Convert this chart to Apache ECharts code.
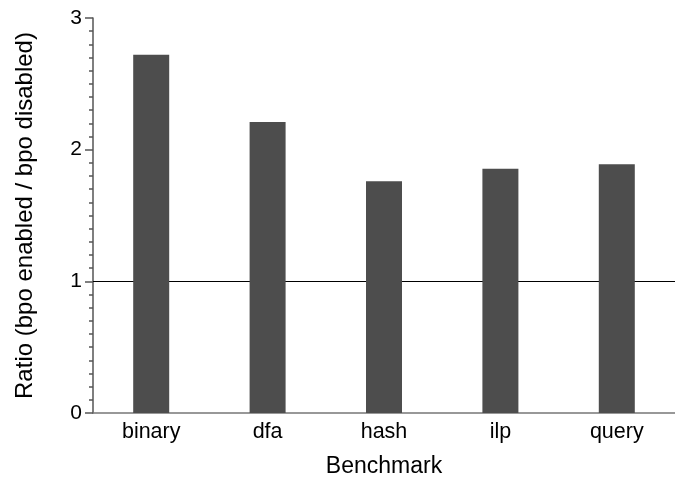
<!DOCTYPE html>
<html>
<head>
<meta charset="utf-8">
<script src="https://cdn.jsdelivr.net/npm/echarts@6/dist/echarts.min.js"></script>
<style>html,body{margin:0;padding:0;background:#fff;}#c{width:675px;height:484px;}</style>
</head>
<body>
<div id="c"></div>
<script>
const categories = ['binary', 'dfa', 'hash', 'ilp', 'query'];
const ratios = [2.72, 2.21, 1.76, 1.855, 1.89];
const yTicks = [0, 1, 2, 3];
const referenceValue = 1;

const chart = echarts.init(document.getElementById('c'), null, {renderer: 'canvas'});
const font = 'Liberation Sans, Arial, Helvetica, sans-serif';
chart.setOption({
  animation: false,
  backgroundColor: '#ffffff',
  grid: {left: 93, top: 18, bottom: 71, width: 592},
  xAxis: {
    type: 'category',
    data: categories,
    name: 'Benchmark',
    nameLocation: 'middle',
    nameGap: 42,
    nameTextStyle: {fontFamily: font, fontSize: 23, color: '#000'},
    axisLine: {lineStyle: {color: '#777', width: 1.5}},
    axisTick: {show: false},
    axisLabel: {fontFamily: font, fontSize: 21.5, color: '#000', margin: 8}
  },
  yAxis: {
    type: 'value',
    min: yTicks[0],
    max: yTicks[yTicks.length - 1],
    interval: 1,
    name: 'Ratio (bpo enabled / bpo disabled)',
    nameLocation: 'middle',
    nameGap: 56,
    nameTextStyle: {fontFamily: font, fontSize: 24, color: '#000'},
    axisLine: {show: true, lineStyle: {color: '#555', width: 1.5}},
    axisTick: {show: true, length: 8, lineStyle: {color: '#555', width: 1.5}},
    minorTick: {show: true, splitNumber: 10, length: 4, lineStyle: {color: '#555', width: 1.5}},
    splitLine: {show: false},
    axisLabel: {fontFamily: font, fontSize: 21, color: '#000', margin: 11}
  },
  series: [{
    type: 'line',
    data: [],
    z: 1,
    silent: true,
    markLine: {
      z: 1,
      silent: true,
      symbol: 'none',
      label: {show: false},
      lineStyle: {color: '#000', width: 1, type: 'solid'},
      data: [{yAxis: referenceValue}]
    }
  }, {
    type: 'bar',
    data: ratios,
    barWidth: 36,
    z: 10,
    itemStyle: {color: '#4d4d4d'}
  }]
});
</script>
</body>
</html>
